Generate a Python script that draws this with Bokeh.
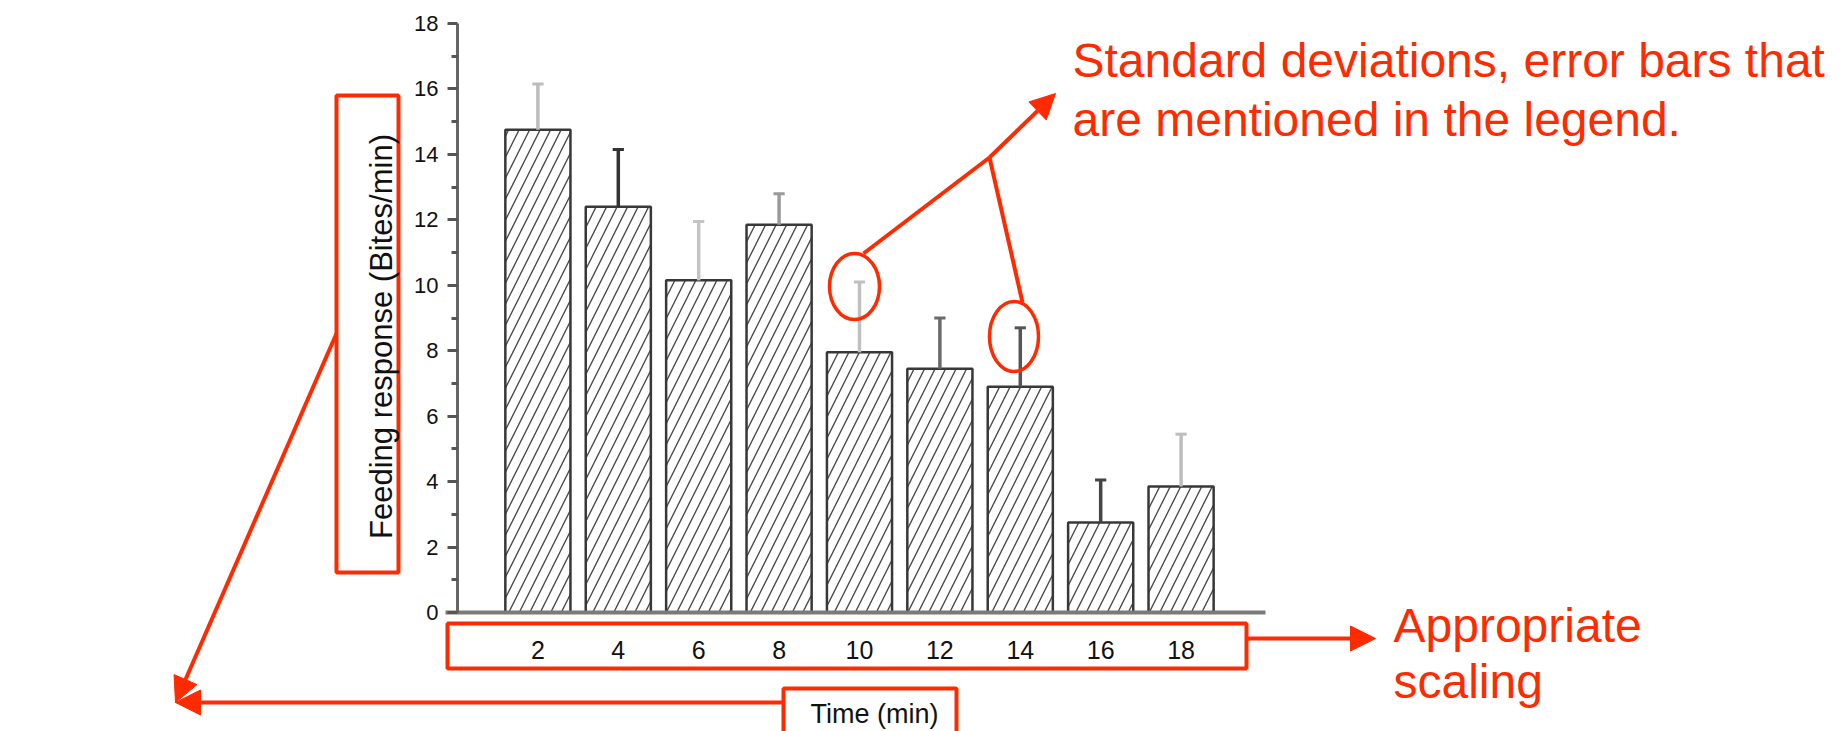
import numpy as np
from bokeh.plotting import figure
from bokeh.models import (Range1d, FixedTicker, Label, Arrow, NormalHead,
                          PolyAnnotation, ColumnDataSource)
from bokeh.embed import file_html
from bokeh.resources import INLINE

# ---------------- data ----------------
time_min = [2, 4, 6, 8, 10, 12, 14, 16, 18]
feeding_mean = [14.75, 12.4, 10.15, 11.85, 7.95, 7.45, 6.9, 2.75, 3.85]
feeding_sd = [1.4, 1.75, 1.8, 0.95, 2.15, 1.55, 1.8, 1.3, 1.6]
x_ticks = [2, 4, 6, 8, 10, 12, 14, 16, 18]
y_ticks = [0, 2, 4, 6, 8, 10, 12, 14, 16, 18]
y_minor = [1, 3, 5, 7, 9, 11, 13, 15, 17]
x_title = "Time (min)"
y_title = "Feeding response (Bites/min)"
note_sd = ["Standard deviations, error bars that", "are mentioned in the legend."]
note_scale = ["Appropriate", "scaling"]

# ---------------- styles ----------------
err_colors = ["#bdbdbd", "#333333", "#c4c4c4", "#9a9a9a", "#c0c0c0",
              "#6a6a6a", "#555555", "#444444", "#bdbdbd"]
RED = "#ff2b00"
FONT = "Liberation Sans"

# geometry in picture pixels; the frame is the whole canvas
W, H = 1847, 731
FL, FR, FT, FB = 457, 1265, 23, 612      # chart area edges
XMAX, YMAX = 20.1, 18.0
PXU = (FR - FL) / XMAX
PYU = (FB - FT) / YMAX


def dx(px):
    return (px - FL) / PXU


def dy(py):
    return (FB - py) / PYU


p = figure(width=W, height=H, output_backend="svg", toolbar_location=None,
           x_range=Range1d(dx(0), dx(W)), y_range=Range1d(dy(H), dy(0)),
           min_border=0)
p.min_border_left = 0
p.min_border_right = 0
p.min_border_top = 0
p.min_border_bottom = 0
p.outline_line_color = None
p.xgrid.visible = False
p.ygrid.visible = False
p.background_fill_color = "white"
p.border_fill_color = "white"

# axes (fixed at the data origin, limited to the chart extent)
xa = p.xaxis[0]
xa.fixed_location = 0
xa.bounds = (-0.3, XMAX)
xa.ticker = FixedTicker(ticks=x_ticks)
xa.major_tick_out = 0
xa.major_tick_in = 0
xa.minor_tick_out = 0
xa.minor_tick_in = 0
xa.axis_line_width = 4
xa.axis_line_color = "#7a7a7a"
xa.major_label_standoff = 28
xa.major_label_text_font = FONT
xa.major_label_text_font_size = "25px"
xa.major_label_text_color = "#111111"

ya = p.yaxis[0]
ya.fixed_location = 0
ya.bounds = (0, YMAX)
ya.ticker = FixedTicker(ticks=y_ticks, minor_ticks=y_minor)
ya.major_tick_out = 10
ya.major_tick_in = 0
ya.minor_tick_out = 6
ya.minor_tick_in = 0
ya.major_tick_line_width = 3
ya.minor_tick_line_width = 3
ya.major_tick_line_color = "#555555"
ya.minor_tick_line_color = "#555555"
ya.axis_line_width = 3
ya.axis_line_color = "#666666"
ya.major_label_standoff = 9
ya.major_label_text_font = FONT
ya.major_label_text_font_size = "22px"
ya.major_label_text_color = "#111111"

# bars
src = ColumnDataSource(dict(
    x=time_min, top=feeding_mean,
    upper=[m + s for m, s in zip(feeding_mean, feeding_sd)],
    cap0=[t - 0.14 for t in time_min], cap1=[t + 0.14 for t in time_min],
    ecol=err_colors))
p.vbar(x="x", top="top", bottom=0, width=1.62, source=src,
       fill_color="white", hatch_pattern="/", hatch_color="#4a4a4a",
       hatch_scale=21, hatch_weight=1.4, line_color="#383838", line_width=2.5)
# one-sided SD error bars
p.segment(x0="x", y0="top", x1="x", y1="upper", source=src,
          line_color="ecol", line_width=3.5)
p.segment(x0="cap0", y0="upper", x1="cap1", y1="upper", source=src,
          line_color="ecol", line_width=3)

# ---------------- red annotations ----------------
p.ellipse(x=[dx(854), dx(1013.5)], y=[dy(286), dy(336)],
          width=[50, 49], height=[66, 70],
          width_units="screen", height_units="screen",
          fill_color=None, line_color=RED, line_width=3.5)


def box(x0, y0, x1, y1):
    p.add_layout(PolyAnnotation(
        xs=[dx(x0), dx(x1), dx(x1), dx(x0)],
        ys=[dy(y0), dy(y0), dy(y1), dy(y1)],
        fill_alpha=0, fill_color=None, line_color=RED, line_alpha=1.0,
        line_width=4))


box(336, 95, 398, 572)      # y title
box(447, 623, 1246, 668)    # x tick labels
box(783, 688, 956, 790)     # x title


def seg(x0, y0, x1, y1, head=True):
    p.add_layout(Arrow(
        x_start=dx(x0), y_start=dy(y0), x_end=dx(x1), y_end=dy(y1),
        line_color=RED, line_width=4,
        end=NormalHead(size=25, fill_color=RED, line_color=RED, line_width=1)
        if head else None))


seg(989, 157, 863, 253, head=False)
seg(989, 157, 1022, 302, head=False)
seg(989, 157, 1055, 93)
seg(336, 333, 175, 702)
seg(783, 702, 175, 702)
seg(1246, 638, 1375, 638)


def text(t, px, py, size, color, align="left", angle=0.0):
    # py is the text baseline; labels are anchored at their middle
    fs = float(size.replace("px", ""))
    off = 0.347 * fs
    if angle == 0.0:
        y = py - off
        x = px
    else:
        y = py
        x = px
    p.add_layout(Label(x=dx(x), y=dy(y), text=t, text_font=FONT,
                       text_font_size=size, text_color=color,
                       text_align=align, text_baseline="middle",
                       angle=angle, angle_units="rad"))


text(note_sd[0], 1072, 77, "48px", RED)
text(note_sd[1], 1072, 136, "48px", RED)
text(note_scale[0], 1393, 642, "48px", RED)
text(note_scale[1], 1393, 698, "48px", RED)
text(y_title, 381, 336, "31px", "#111111", align="center", angle=np.pi / 2)
text(x_title, 874, 723, "27px", "#111111", align="center")

open("out.html", "w").write(file_html(p, INLINE))
